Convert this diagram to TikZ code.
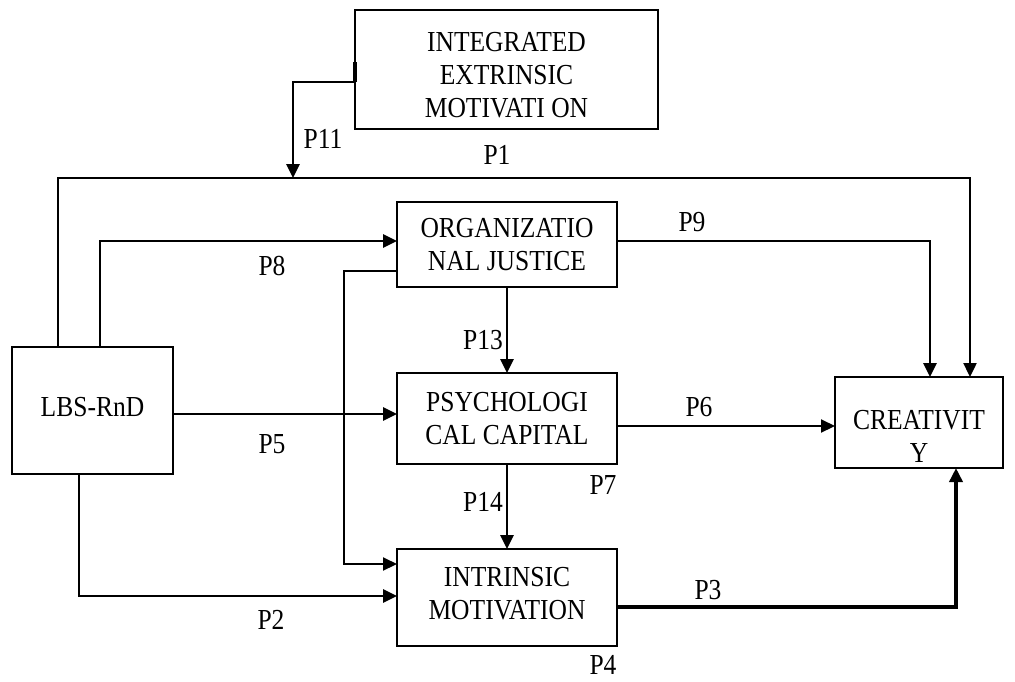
\documentclass[tikz,border=0pt]{standalone}
\usepackage{fontspec}
\setmainfont{Liberation Serif}[FakeStretch=0.88]
\usetikzlibrary{arrows.meta}
\begin{document}
\begin{tikzpicture}[x=1pt,y=-1pt,
  box/.style={draw, line width=1.8pt, inner sep=0pt, outer sep=0pt, align=center, font=\fontsize{29}{33}\selectfont},
  txt/.style={inner sep=0pt, outer sep=0pt, align=center, font=\fontsize{29}{33}\selectfont},
  lbl/.style={inner sep=0pt, outer sep=0pt, font=\fontsize{29}{33}\selectfont},
  arr/.style={line width=2.8pt, -{Triangle[length=14pt,width=13pt]}},
  thinarr/.style={line width=2.1pt, -{Triangle[length=14pt,width=13pt]}},
  thickarr/.style={line width=3.8pt, -{Triangle[length=14pt,width=13pt]}}]
\useasboundingbox (0,0) rectangle (1015,681);

% boxes
\node[box, minimum width=303pt, minimum height=119pt] (iem) at (506.5,69.5) {};
\node[txt] (iemt) at (506.5,75.5) {INTEGRATED\\EXTRINSIC\\MOTIVATI ON};
\node[box, minimum width=220pt, minimum height=85pt] (org) at (507,244.5) {ORGANIZATIO\\NAL JUSTICE};
\node[box, minimum width=220pt, minimum height=91pt] (psy) at (507,418.5) {PSYCHOLOGI\\CAL CAPITAL};
\node[box, minimum width=220pt, minimum height=97pt] (int) at (507,597.5) {};
\node[txt] (intt) at (507,593.5) {INTRINSIC\\MOTIVATION};
\node[box, minimum width=161pt, minimum height=127pt] (lbs) at (92.5,410.5) {};
\node[txt] (lbst) at (92.5,407) {LBS-RnD};
\node[box, minimum width=168pt, minimum height=91pt] (cre) at (919,422.5) {};
\node[txt] (cret) at (919,436) {CREATIVIT\\Y};

% waypoints
\coordinate (p1a) at (58,178);
\coordinate (p1b) at (970,178);
\coordinate (p11a) at (293,82);
\coordinate (p11t) at (293,62);
\coordinate (p8a) at (100,241);
\coordinate (p9a) at (930,241);
\coordinate (p12a) at (344,271);
\coordinate (p12b) at (344,564);
\coordinate (p5a) at (173,414);
\coordinate (p6a) at (700,426);
\coordinate (p2a) at (79,596);
\coordinate (p3a) at (956,607);

% connectors
\draw[line width=2.4pt, -{Triangle[length=14pt,width=13pt]}] (lbs.north -| p1a) -- (p1a) -- (p1b) -- (cre.north -| p1b);
\draw[line width=3.2pt] (iem.west |- p11t) -- (iem.west |- p11a);
\draw[arr] (iem.west |- p11a) -- (p11a) -- (p11a |- p1a);
\draw[arr] (lbs.north -| p8a) -- (p8a) -- (org.west |- p8a);
\draw[arr] (org.east |- p9a) -- (p9a) -- (cre.north -| p9a);
\draw[thinarr] (org.west |- p12a) -- (p12a) -- (p12b) -- (int.west |- p12b);
\draw[arr] (org.south) -- (psy.north);
\draw[arr] (psy.south) -- (int.north);
\draw[arr] (lbs.east |- p5a) -- (psy.west |- p5a);
\draw[thinarr] (psy.east |- p6a) -- (cre.west |- p6a);
\draw[arr] (lbs.south -| p2a) -- (p2a) -- (int.west |- p2a);
\draw[thickarr] (int.east |- p3a) -- (p3a) -- (cre.south -| p3a);

% labels
\node[lbl] (l11) at (323,139) {P11};
\node[lbl] (l1) at (497,155) {P1};
\node[lbl] (l8) at (272,266) {P8};
\node[lbl] (l9) at (692,222) {P9};
\node[lbl] (l13) at (483,340) {P13};
\node[lbl] (l5) at (272,444) {P5};
\node[lbl] (l6) at (699,407) {P6};
\node[lbl] (l7) at (603,485) {P7};
\node[lbl] (l14) at (483,502) {P14};
\node[lbl] (l2) at (271,620) {P2};
\node[lbl] (l3) at (708,590) {P3};
\node[lbl] (l4) at (603,665) {P4};
\end{tikzpicture}
\end{document}
